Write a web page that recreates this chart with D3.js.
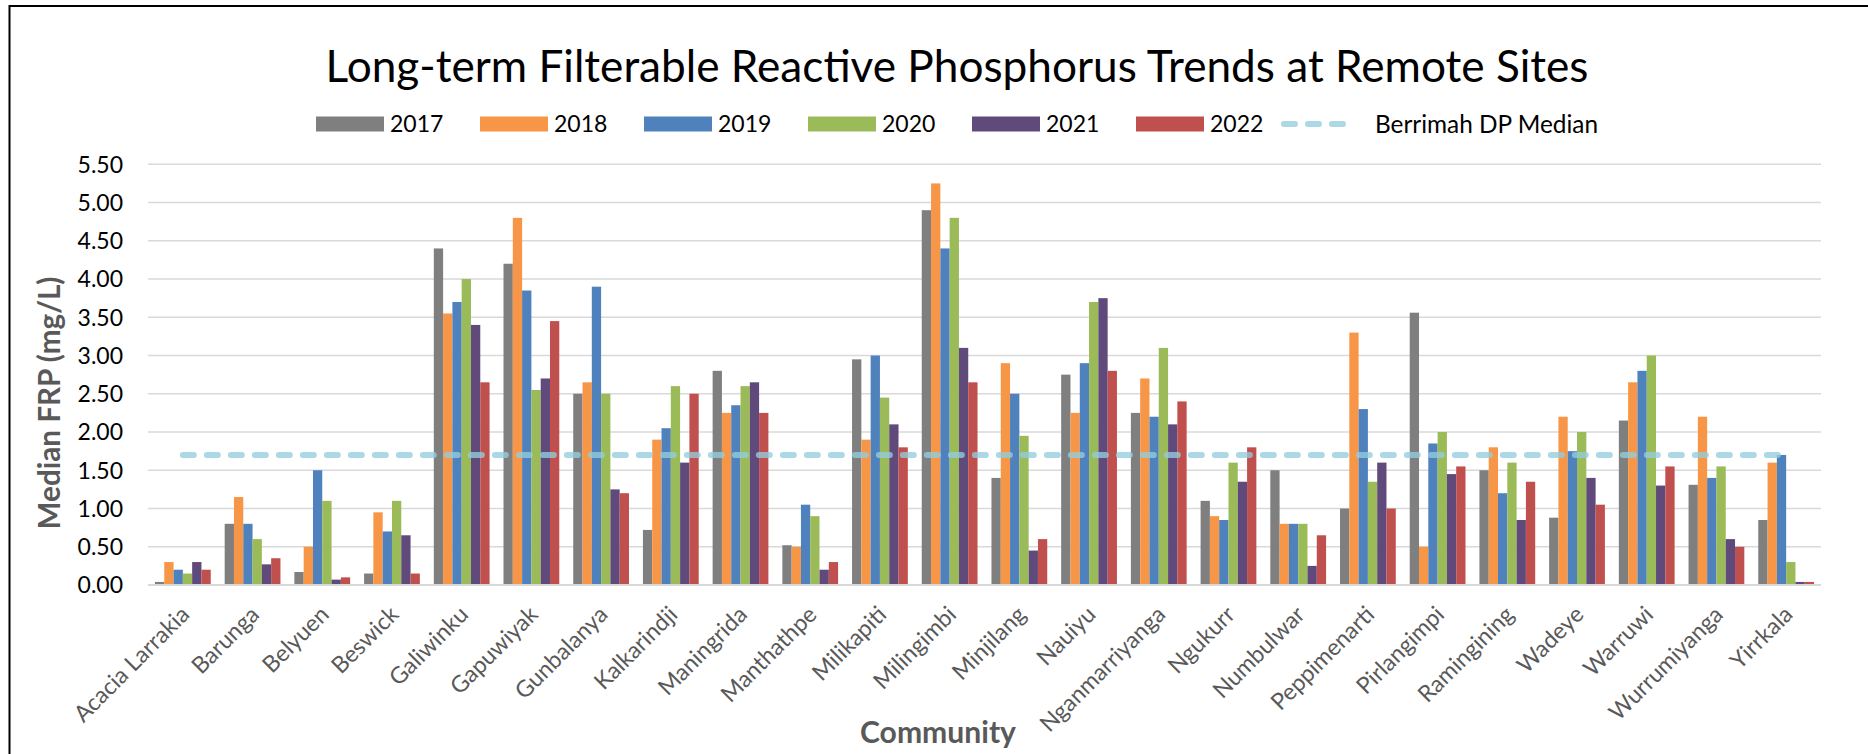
<!DOCTYPE html>
<html>
<head>
<meta charset="utf-8">
<script src="https://cdn.jsdelivr.net/npm/d3@7"></script>
<style>
  html, body { margin: 0; padding: 0; background: #fff; }
  svg { display: block; font-family: Lato, "Open Sans", sans-serif; }
</style>
</head>
<body>
<svg id="chart" width="1868" height="754"></svg>
<script>
const categories = ["Acacia Larrakia","Barunga","Belyuen","Beswick","Galiwinku","Gapuwiyak","Gunbalanya","Kalkarindji","Maningrida","Manthathpe","Milikapiti","Milingimbi","Minjilang","Nauiyu","Nganmarriyanga","Ngukurr","Numbulwar","Peppimenarti","Pirlangimpi","Ramingining","Wadeye","Warruwi","Wurrumiyanga","Yirrkala"];
const years = ["2017","2018","2019","2020","2021","2022"];
const v2017 = [0.04,0.80,0.17,0.15,4.40,4.20,2.50,0.72,2.80,0.52,2.95,4.90,1.40,2.75,2.25,1.10,1.50,1.00,3.56,1.50,0.88,2.15,1.31,0.85];
const v2018 = [0.30,1.15,0.50,0.95,3.55,4.80,2.65,1.90,2.25,0.50,1.90,5.25,2.90,2.25,2.70,0.90,0.80,3.30,0.50,1.80,2.20,2.65,2.20,1.60];
const v2019 = [0.20,0.80,1.50,0.70,3.70,3.85,3.90,2.05,2.35,1.05,3.00,4.40,2.50,2.90,2.20,0.85,0.80,2.30,1.85,1.20,1.75,2.80,1.40,1.70];
const v2020 = [0.15,0.60,1.10,1.10,4.00,2.55,2.50,2.60,2.60,0.90,2.45,4.80,1.95,3.70,3.10,1.60,0.80,1.35,2.00,1.60,2.00,3.00,1.55,0.30];
const v2021 = [0.30,0.27,0.07,0.65,3.40,2.70,1.25,1.60,2.65,0.20,2.10,3.10,0.45,3.75,2.10,1.35,0.25,1.60,1.45,0.85,1.40,1.30,0.60,0.04];
const v2022 = [0.20,0.35,0.10,0.15,2.65,3.45,1.20,2.50,2.25,0.30,1.80,2.65,0.60,2.80,2.40,1.80,0.65,1.00,1.55,1.35,1.05,1.55,0.50,0.04];
const berrimahMedian = 1.7;
const yTicks = [0,0.5,1,1.5,2,2.5,3,3.5,4,4.5,5,5.5];
const title = "Long-term Filterable Reactive Phosphorus Trends at Remote Sites";
const medianLabel = "Berrimah DP Median";
const xTitle = "Community";
const yTitle = "Median FRP (mg/L)";

const seriesValues = [v2017, v2018, v2019, v2020, v2021, v2022];
const colors = ["#7f7f7f","#f79646","#4f81bd","#9bbb59","#604a7b","#c0504d"];
const table = [];
categories.forEach((c, i) => years.forEach((y, j) => table.push({cat: c, year: y, value: seriesValues[j][i]})));

const svg = d3.select("#chart");
const plot = {left: 148, right: 1821, top: 164.3, bottom: 585};

// helper: fit text to a target width
function fit(sel, target) {
  const n = sel.node();
  const fs = parseFloat(sel.attr("font-size"));
  const w = n.getComputedTextLength();
  sel.attr("font-size", (fs * target / w).toFixed(2));
}

// frame (top and left only)
svg.append("line").attr("x1", 9).attr("x2", 1868).attr("y1", 6).attr("y2", 6).attr("stroke", "#000").attr("stroke-width", 2);
svg.append("line").attr("x1", 9.5).attr("x2", 9.5).attr("y1", 5).attr("y2", 754).attr("stroke", "#000").attr("stroke-width", 2);

const x = d3.scaleBand().domain(categories).range([plot.left, plot.right]).paddingInner(0.2).paddingOuter(0.1);
const xi = d3.scaleBand().domain(years).range([0, x.bandwidth()]).padding(0);
const y = d3.scaleLinear().domain([0, 5.5]).range([plot.bottom, plot.top]);
const color = d3.scaleOrdinal().domain(years).range(colors);

// gridlines
svg.append("g").selectAll("line").data(yTicks).join("line")
  .attr("x1", plot.left).attr("x2", plot.right)
  .attr("y1", d => y(d)).attr("y2", d => y(d))
  .attr("stroke", "#d9d9d9").attr("stroke-width", 1.6);

// y axis labels
const yAxis = d3.axisLeft(y).tickValues(yTicks).tickFormat(d3.format(".2f")).tickSize(0).tickPadding(0);
const yg = svg.append("g").attr("transform", `translate(123,0)`).call(yAxis);
yg.select(".domain").remove();
yg.selectAll("text").attr("font-size", 23).attr("font-family", "Lato").attr("fill", "#000").attr("dy", "0.34em");

// bars
svg.append("g").selectAll("rect").data(table).join("rect")
  .attr("x", d => x(d.cat) + xi(d.year))
  .attr("width", xi.bandwidth())
  .attr("y", d => y(d.value))
  .attr("height", d => y(0) - y(d.value))
  .attr("fill", d => color(d.year));

// baseline
svg.append("line").attr("x1", plot.left).attr("x2", plot.right).attr("y1", y(0)).attr("y2", y(0))
  .attr("stroke", "#d9d9d9").attr("stroke-width", 2);

// median dashed line
const lineData = categories.map(c => ({cat: c, value: berrimahMedian}));
const line = d3.line().x(d => x(d.cat) + x.bandwidth() / 2).y(d => y(d.value));
svg.append("path").datum(lineData).attr("d", line)
  .attr("fill", "none").attr("stroke", "#93cddd").attr("stroke-opacity", 0.78)
  .attr("stroke-width", 6).attr("stroke-linecap", "round").attr("stroke-dasharray", "11,13");

// category labels
const xg = svg.append("g");
xg.selectAll("text").data(categories).join("text")
  .attr("transform", d => `translate(${x(d) + x.bandwidth() / 2 + 8},${plot.bottom + 31}) rotate(-45)`)
  .attr("text-anchor", "end")
  .attr("font-size", 21).attr("fill", "#595959")
  .text(d => d);
// scale label size to match reference length of first label (~152px)
{
  const first = xg.select("text").node();
  const w = first.getComputedTextLength();
  const fs = 21 * 152 / w;
  xg.selectAll("text").attr("font-size", fs.toFixed(2));
}

// title
const t = svg.append("text").attr("x", 957).attr("y", 82).attr("text-anchor", "middle")
  .attr("font-size", 42).attr("fill", "#000").text(title);
fit(t, 1263);

// axis titles
const xt = svg.append("text").attr("x", 938).attr("y", 743).attr("text-anchor", "middle")
  .attr("font-size", 29).attr("font-weight", "bold").attr("fill", "#595959").text(xTitle);
fit(xt, 156);
const yt = svg.append("text").attr("transform", `translate(60,403) rotate(-90)`).attr("text-anchor", "middle")
  .attr("font-size", 29).attr("font-weight", "bold").attr("fill", "#595959").text(yTitle);
fit(yt, 253);

// legend
const legend = svg.append("g");
const legendY = 124;
years.forEach((yr, i) => {
  const lx = 316 + i * 164;
  legend.append("rect").attr("x", lx).attr("y", legendY - 7.5).attr("width", 68).attr("height", 15).attr("fill", color(yr));
  legend.append("text").attr("x", lx + 74).attr("y", legendY).attr("dy", "0.36em")
    .attr("font-size", 23).attr("fill", "#000").text(yr);
});
{
  const lx = 316 + years.length * 164 - 19;
  legend.append("line").attr("x1", lx + 3).attr("x2", lx + 62).attr("y1", legendY).attr("y2", legendY)
    .attr("stroke", "#93cddd").attr("stroke-opacity", 0.78).attr("stroke-width", 6)
    .attr("stroke-linecap", "round").attr("stroke-dasharray", "11,13");
  const lt = legend.append("text").attr("x", 1375).attr("y", legendY).attr("dy", "0.36em")
    .attr("font-size", 23).attr("fill", "#000").text(medianLabel);
  fit(lt, 223);
}
</script>
</body>
</html>
